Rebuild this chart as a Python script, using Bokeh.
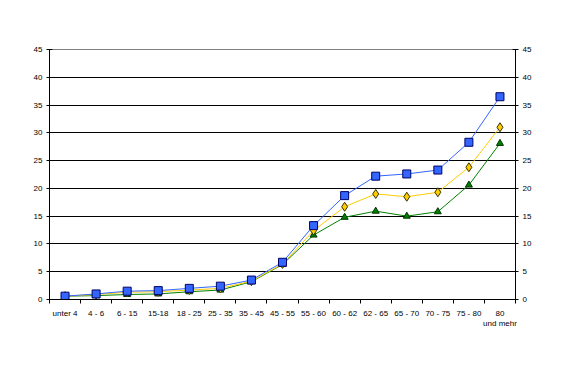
from bokeh.plotting import figure
from bokeh.models import FixedTicker, LinearAxis, Range1d
from bokeh.embed import file_html
from bokeh.resources import INLINE

categories = ["unter 4", "4 - 6", "6 - 15", "15-18", "18 - 25", "25 - 35", "35 - 45",
              "45 - 55", "55 - 60", "60 - 62", "62 - 65", "65 - 70", "70 - 75",
              "75 - 80", "80\nund mehr"]
blue = [0.6, 1.0, 1.5, 1.6, 2.0, 2.4, 3.5, 6.7, 13.3, 18.7, 22.2, 22.6, 23.3, 28.3, 36.5]
yellow = [0.6, 0.9, 1.3, 1.4, 1.7, 2.0, 3.3, 6.4, 12.4, 16.7, 19.0, 18.5, 19.3, 23.8, 31.0]
green = [0.6, 0.7, 0.9, 1.0, 1.4, 1.7, 3.2, 6.3, 11.6, 14.8, 15.9, 15.0, 15.8, 20.6, 28.1]
y_ticks = [0, 5, 10, 15, 20, 25, 30, 35, 40, 45]

xs = [i + 0.5 for i in range(len(categories))]
font = "Liberation Sans"
fs = "8px"

p = figure(width=555, height=360, output_backend="svg", toolbar_location=None,
           x_range=Range1d(0, len(categories)), y_range=Range1d(0, 45),
           min_border_left=49, min_border_right=40, min_border_top=49, min_border_bottom=61,
           background_fill_color="white", border_fill_color="white",
           outline_line_color="#808080")

p.xgrid.visible = False
p.ygrid.ticker = FixedTicker(ticks=y_ticks[1:-1])
p.ygrid.grid_line_color = "black"
p.ygrid.grid_line_width = 1

xa = p.xaxis[0]
xa.ticker = FixedTicker(ticks=xs, minor_ticks=list(range(len(categories) + 1)))
xa.major_label_overrides = {x: c for x, c in zip(xs, categories)}
xa.major_tick_out = 0
xa.major_tick_in = 0
xa.minor_tick_out = 4
xa.minor_tick_in = 0
xa.minor_tick_line_color = "black"
xa.axis_line_color = "black"
xa.major_label_text_font = font
xa.major_label_text_font_size = fs
xa.major_label_text_color = "black"
xa.major_label_standoff = 5

ya = p.yaxis[0]
ra = LinearAxis()
p.add_layout(ra, "right")
for a in (ya, ra):
    a.ticker = FixedTicker(ticks=y_ticks)
    a.major_tick_out = 3
    a.major_tick_in = 3
    a.minor_tick_out = 0
    a.minor_tick_in = 0
    a.axis_line_color = "black"
    a.major_tick_line_color = "black"
    a.major_label_text_font = font
    a.major_label_text_font_size = fs
    a.major_label_text_color = "black"
    a.major_label_standoff = 4

p.line(xs, green, line_color="#008000", line_width=1)
p.line(xs, yellow, line_color="#FFCC00", line_width=1)
p.line(xs, blue, line_color="#3366FF", line_width=1)
p.scatter(xs, green, marker="triangle", size=7, fill_color="#008000", line_color="#003300")
p.scatter(xs, yellow, marker="diamond", size=9, fill_color="#FFCC00", line_color="#333300")
p.scatter(xs, blue, marker="square", size=8, fill_color="#3366FF", line_color="#000066")

open("out.html", "w").write(file_html(p, INLINE))
